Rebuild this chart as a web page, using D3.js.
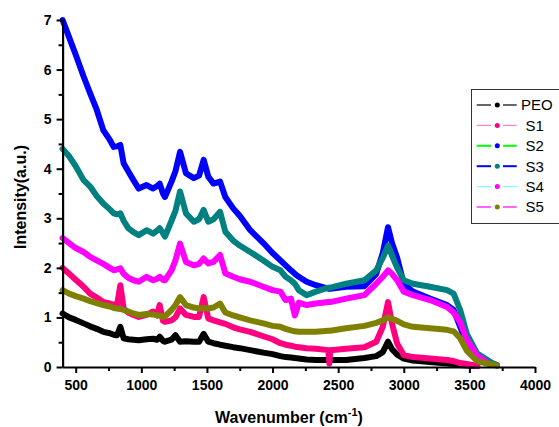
<!DOCTYPE html>
<html>
<head>
<meta charset="utf-8">
<script src="https://cdn.jsdelivr.net/npm/d3@7"></script>
<style>
  body { margin: 0; background: #fff; }
  svg { display: block; font-family: 'Liberation Sans', Arial, sans-serif; }
</style>
</head>
<body>
<div id="chart"></div>
<script>
// wavenumber grid (cm-1) shared by all spectra
const wavenumber = [400, 450, 500, 560, 610, 660, 710, 760, 790, 815, 840, 865, 900, 940, 980, 1040, 1090, 1120, 1140, 1165, 1180, 1230, 1260, 1295, 1340, 1400, 1440, 1475, 1510, 1550, 1600, 1640, 1700, 1750, 1830, 1930, 2000, 2060, 2100, 2140, 2170, 2200, 2260, 2330, 2425, 2433, 2440, 2560, 2700, 2790, 2840, 2880, 2910, 2950, 3000, 3070, 3200, 3330, 3380, 3430, 3480, 3560, 3650, 3710];

const peo = [1.08, 1.0, 0.95, 0.88, 0.82, 0.77, 0.71, 0.68, 0.65, 0.64, 0.81, 0.58, 0.56, 0.55, 0.54, 0.56, 0.57, 0.55, 0.61, 0.53, 0.51, 0.55, 0.64, 0.51, 0.52, 0.51, 0.51, 0.67, 0.51, 0.48, 0.45, 0.43, 0.40, 0.38, 0.34, 0.29, 0.26, 0.22, 0.20, 0.19, 0.18, 0.17, 0.15, 0.14, 0.14, 0.14, 0.14, 0.14, 0.18, 0.22, 0.30, 0.51, 0.36, 0.25, 0.17, 0.13, 0.10, 0.07, 0.06, 0.04, 0.03, 0.02, null, null];
const s1 = [2.0, 1.88, 1.76, 1.62, 1.48, 1.40, 1.31, 1.28, 1.26, 1.25, 1.65, 1.18, 1.10, 1.05, 1.01, 1.05, 1.12, 1.04, 1.25, 0.93, 0.91, 0.94, 1.0, 1.18, 1.05, 1.01, 1.01, 1.41, 0.98, 0.94, 0.90, 0.87, 0.80, 0.76, 0.71, 0.62, 0.56, 0.48, 0.45, 0.43, 0.41, 0.40, 0.38, 0.37, 0.34, 0.07, 0.34, 0.37, 0.40, 0.51, 0.81, 1.31, 0.88, 0.47, 0.24, 0.20, 0.17, 0.14, 0.12, 0.08, 0.06, 0.02, null, null];
const s2 = [7.0, 6.65, 6.3, 5.86, 5.52, 5.19, 4.78, 4.58, 4.44, 4.45, 4.48, 4.11, 3.95, 3.77, 3.60, 3.67, 3.60, 3.65, 3.70, 3.50, 3.43, 3.74, 3.95, 4.34, 3.91, 3.81, 3.86, 4.18, 3.84, 3.70, 3.74, 3.43, 3.20, 3.05, 2.76, 2.50, 2.30, 2.15, 2.05, 1.95, 1.88, 1.82, 1.72, 1.65, 1.58, 1.58, 1.58, 1.62, 1.63, 1.88, 2.30, 2.82, 2.50, 2.20, 1.68, 1.52, 1.38, 1.25, 1.15, 0.81, 0.47, 0.20, 0.08, 0.04];
const s3 = [4.4, 4.25, 4.05, 3.77, 3.64, 3.45, 3.30, 3.18, 3.10, 3.08, 3.10, 2.95, 2.80, 2.72, 2.66, 2.76, 2.69, 2.75, 2.80, 2.70, 2.63, 2.95, 3.15, 3.54, 3.10, 2.93, 2.98, 3.17, 2.93, 2.98, 3.13, 2.73, 2.55, 2.45, 2.32, 2.15, 2.02, 1.95, 1.82, 1.75, 1.68, 1.55, 1.45, 1.52, 1.60, 1.60, 1.60, 1.68, 1.75, 1.95, 2.20, 2.45, 2.25, 2.00, 1.75, 1.68, 1.62, 1.55, 1.48, 1.15, 0.67, 0.27, 0.12, 0.03];
const s4 = [2.6, 2.5, 2.4, 2.32, 2.22, 2.15, 2.08, 2.0, 1.95, 1.97, 1.99, 1.88, 1.80, 1.75, 1.72, 1.82, 1.75, 1.78, 1.82, 1.76, 1.75, 1.95, 2.15, 2.49, 2.12, 2.05, 2.08, 2.19, 2.09, 2.12, 2.26, 1.89, 1.82, 1.77, 1.72, 1.62, 1.55, 1.52, 1.35, 1.38, 1.04, 1.30, 1.25, 1.28, 1.31, 1.31, 1.31, 1.38, 1.45, 1.68, 1.82, 1.95, 1.88, 1.75, 1.52, 1.45, 1.35, 1.21, 1.10, 0.90, 0.55, 0.23, 0.06, null];
const s5 = [1.55, 1.48, 1.43, 1.38, 1.33, 1.29, 1.25, 1.22, 1.19, 1.18, 1.17, 1.15, 1.12, 1.08, 1.05, 1.07, 1.06, 1.04, 1.04, 1.01, 1.02, 1.15, 1.25, 1.41, 1.25, 1.20, 1.18, 1.19, 1.18, 1.20, 1.28, 1.10, 1.04, 1.00, 0.94, 0.88, 0.83, 0.81, 0.77, 0.74, 0.72, 0.71, 0.71, 0.71, 0.73, 0.73, 0.73, 0.78, 0.83, 0.89, 0.94, 1.0, 0.97, 0.93, 0.86, 0.81, 0.78, 0.75, 0.72, 0.58, 0.33, 0.12, 0.06, 0.03];

const seriesNames = ['PEO', 'S1', 'S2', 'S3', 'S4', 'S5'];
const seriesValues = [peo, s1, s2, s3, s4, s5];
const xTicks = [500, 1000, 1500, 2000, 2500, 3000, 3500, 4000];
const yTicks = [0, 1, 2, 3, 4, 5, 6, 7];

// symbol colour (used for the curves) and legend line colour, Origin style
const symbolColors = ['#000000', '#ff0080', '#0000ff', '#008080', '#ff00ff', '#808000'];
const lineColors = ['#000000', '#ff80c0', '#00ff00', '#0000ff', '#80ffff', '#ff00ff'];

const W = 559, H = 427;
const margin = { top: 20, right: 24, bottom: 60, left: 62.6 };
const width = W - margin.left - margin.right;
const height = H - margin.top - margin.bottom;

const svg = d3.select('#chart').append('svg').attr('width', W).attr('height', H);
const g = svg.append('g').attr('transform', `translate(${margin.left},${margin.top})`);

const x = d3.scaleLinear().domain([400, 4000]).range([0, width]);
const y = d3.scaleLinear().domain([0, 7]).range([height, 0]);

// curves
const line = d3.line()
  .defined((d) => d[1] !== null)
  .x((d) => x(d[0]))
  .y((d) => y(d[1]));

seriesValues.forEach((values, i) => {
  const pts = wavenumber.map((w, j) => [w, values[j]]);
  g.append('path')
    .datum(pts)
    .attr('fill', 'none')
    .attr('stroke', symbolColors[i])
    .attr('stroke-width', 6)
    .attr('stroke-linejoin', 'round')
    .attr('stroke-linecap', 'round')
    .attr('d', line);
});

// minor ticks
g.append('g')
  .attr('transform', `translate(0,${height})`)
  .call(d3.axisBottom(x).tickValues(d3.range(750, 4000, 500)).tickSize(4).tickFormat(''))
  .call((a) => a.select('.domain').remove())
  .selectAll('line').attr('stroke-width', 2);
g.append('g')
  .call(d3.axisLeft(y).tickValues(d3.range(0.5, 7, 1)).tickSize(4).tickFormat(''))
  .call((a) => a.select('.domain').remove())
  .selectAll('line').attr('stroke-width', 2);

// x axis
const xAxis = g.append('g')
  .attr('transform', `translate(0,${height})`)
  .call(d3.axisBottom(x).tickValues(xTicks).tickFormat(d3.format('d')).tickSize(6).tickSizeOuter(0).tickPadding(7));
xAxis.select('.domain').attr('stroke-width', 2.2);
xAxis.selectAll('.tick line').attr('stroke-width', 2);
xAxis.selectAll('text').attr('font-size', 14).attr('font-weight', 'bold').attr('fill', '#000');

// y axis
const yAxis = g.append('g')
  .call(d3.axisLeft(y).tickValues(yTicks).tickFormat(d3.format('d')).tickSize(6).tickSizeOuter(0).tickPadding(5));
yAxis.select('.domain').attr('stroke-width', 2.2);
yAxis.selectAll('.tick line').attr('stroke-width', 2);
yAxis.selectAll('text').attr('font-size', 14).attr('font-weight', 'bold').attr('fill', '#000');

// axis titles
const xTitle = svg.append('text')
  .attr('x', 289)
  .attr('y', 423)
  .attr('text-anchor', 'middle')
  .attr('font-size', 16)
  .attr('font-weight', 'bold');
xTitle.append('tspan').text('Wavenumber (cm');
xTitle.append('tspan').attr('font-size', 11).attr('dy', -7).text('-1');
xTitle.append('tspan').attr('dy', 7).text(')');

svg.append('text')
  .attr('transform', 'translate(26,197) rotate(-90)')
  .attr('text-anchor', 'middle')
  .attr('font-size', 16)
  .attr('font-weight', 'bold')
  .text('Intensity(a.u.)');

// legend
const legend = svg.append('g').attr('transform', 'translate(471,89)');
legend.append('rect')
  .attr('x', 0.5).attr('y', 0.5)
  .attr('width', 100).attr('height', 134)
  .attr('fill', '#fff')
  .attr('stroke', '#333')
  .attr('stroke-width', 1);

seriesNames.forEach((name, i) => {
  const item = legend.append('g').attr('transform', `translate(0,${16 + i * 20.4})`);
  const lw = (i === 2 || i === 3) ? 2 : 1.2;
  [[5.7, 20], [32, 45.7]].forEach(([a, b]) => {
    item.append('line')
      .attr('x1', a).attr('x2', b)
      .attr('y1', 0).attr('y2', 0)
      .attr('stroke', lineColors[i])
      .attr('stroke-width', lw);
  });
  item.append('circle').attr('cx', 26.3).attr('cy', 0).attr('r', 2.5).attr('fill', symbolColors[i]);
  item.append('text')
    .attr('x', i === 0 ? 50 : 54.5)
    .attr('y', 0)
    .attr('dy', '0.36em')
    .attr('font-size', 15)
    .text(name);
});
</script>
</body>
</html>
